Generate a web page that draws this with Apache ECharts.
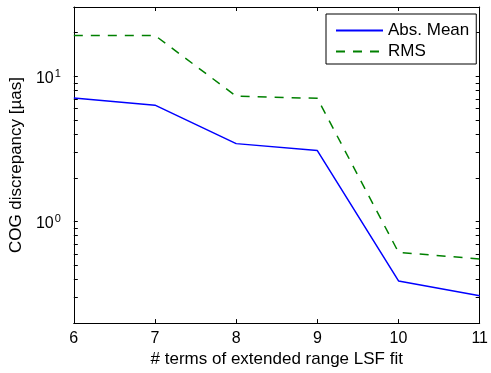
<!DOCTYPE html>
<html>
<head>
<meta charset="utf-8">
<script src="https://cdn.jsdelivr.net/npm/echarts@6/dist/echarts.min.js"></script>
<style>
html,body{margin:0;padding:0;background:#fff;}
#c{width:491px;height:373px;}
</style>
</head>
<body>
<div id="c"></div>
<script>
var xValues = [6, 7, 8, 9, 10, 11];
var absMean = [7.08, 6.33, 3.44, 3.08, 0.39, 0.309];
var rms = [19.1, 19.1, 7.3, 7.05, 0.614, 0.553];
var seriesNames = ['Abs. Mean', 'RMS'];
var xTicks = [6, 7, 8, 9, 10, 11];
var yMajorTicks = [1, 10];
var yMinorTicks = [0.2, 0.3, 0.4, 0.5, 0.6, 0.7, 0.8, 0.9, 1, 2, 3, 4, 5, 6, 7, 8, 9, 10, 20, 30];
var xLabel = '# terms of extended range LSF fit';
var yLabel = 'COG discrepancy [\u00b5as]';

var FONT = 'Liberation Sans, Arial, Helvetica, sans-serif';

function pairs(ys) { return xValues.map(function (x, i) { return [x, ys[i]]; }); }

var chart = echarts.init(document.getElementById('c'), null, {renderer: 'canvas'});
var axisLineStyle = {show: true, lineStyle: {color: '#000', width: 1}};
var option = {
  animation: false,
  backgroundColor: '#fff',
  grid: {left: 73, right: 7, top: 7, bottom: 42, containLabel: false},
  legend: {
    show: true,
    orient: 'vertical',
    left: 326, top: 14,
    padding: [8, 7, 4, 9],
    itemWidth: 47, itemHeight: 16, itemGap: 4,
    backgroundColor: '#fff',
    borderColor: '#000', borderWidth: 1, borderRadius: 0,
    itemStyle: {opacity: 0},
    textStyle: {fontFamily: FONT, fontSize: 17, color: '#000'},
    data: seriesNames
  },
  xAxis: [{
    type: 'value', min: 6, max: 11, interval: 1, position: 'bottom',
    name: xLabel, nameLocation: 'middle', nameGap: 25,
    nameTextStyle: {fontFamily: FONT, fontSize: 17, color: '#000'},
    axisLine: axisLineStyle,
    axisTick: {show: true, inside: true, length: 4, lineStyle: {color: '#000'}},
    axisLabel: {fontFamily: FONT, fontSize: 16, color: '#000', margin: 7,
      customValues: xTicks},
    splitLine: {show: false}
  }, {
    type: 'value', min: 6, max: 11, interval: 1, position: 'top',
    axisLine: axisLineStyle,
    axisTick: {show: true, inside: true, length: 4, lineStyle: {color: '#000'}},
    axisLabel: {show: false},
    splitLine: {show: false}
  }],
  yAxis: [{
    type: 'log', logBase: 10, min: 0.2, max: 30, position: 'left',
    name: yLabel, nameLocation: 'middle', nameGap: 46, nameRotate: 90,
    nameTextStyle: {fontFamily: FONT, fontSize: 17, color: '#000'},
    axisLine: axisLineStyle,
    axisTick: {show: true, inside: true, length: 4, lineStyle: {color: '#000'},
      customValues: yMinorTicks},
    axisLabel: {
      margin: 13,
      customValues: yMajorTicks,
      formatter: function (v) {
        var e = Math.round(Math.log10(v));
        return '{b|10}{s|' + e + '}';
      },
      rich: {
        b: {fontFamily: FONT, fontSize: 16, lineHeight: 16, color: '#000', padding: [8, 0, 4, 0]},
        s: {fontFamily: FONT, fontSize: 11, lineHeight: 11, color: '#000', verticalAlign: 'top', padding: [0, 0, 0, 1]}
      }
    },
    splitLine: {show: false}
  }, {
    type: 'log', logBase: 10, min: 0.2, max: 30, position: 'right',
    axisLine: axisLineStyle,
    axisTick: {show: true, inside: true, length: 4, lineStyle: {color: '#000'},
      customValues: yMinorTicks},
    axisLabel: {show: false},
    splitLine: {show: false}
  }],
  series: [{
    name: seriesNames[0], type: 'line', xAxisIndex: 0, yAxisIndex: 0,
    data: pairs(absMean), symbol: 'none', showSymbol: false,
    lineStyle: {color: '#0000ff', width: 1.5, type: 'solid'},
    itemStyle: {color: '#0000ff'}
  }, {
    name: seriesNames[1], type: 'line', xAxisIndex: 0, yAxisIndex: 0,
    data: pairs(rms), symbol: 'none', showSymbol: false,
    lineStyle: {color: '#008000', width: 1.5, type: [9, 8]},
    itemStyle: {color: '#008000'}
  }]
};
chart.setOption(option);
</script>
</body>
</html>
